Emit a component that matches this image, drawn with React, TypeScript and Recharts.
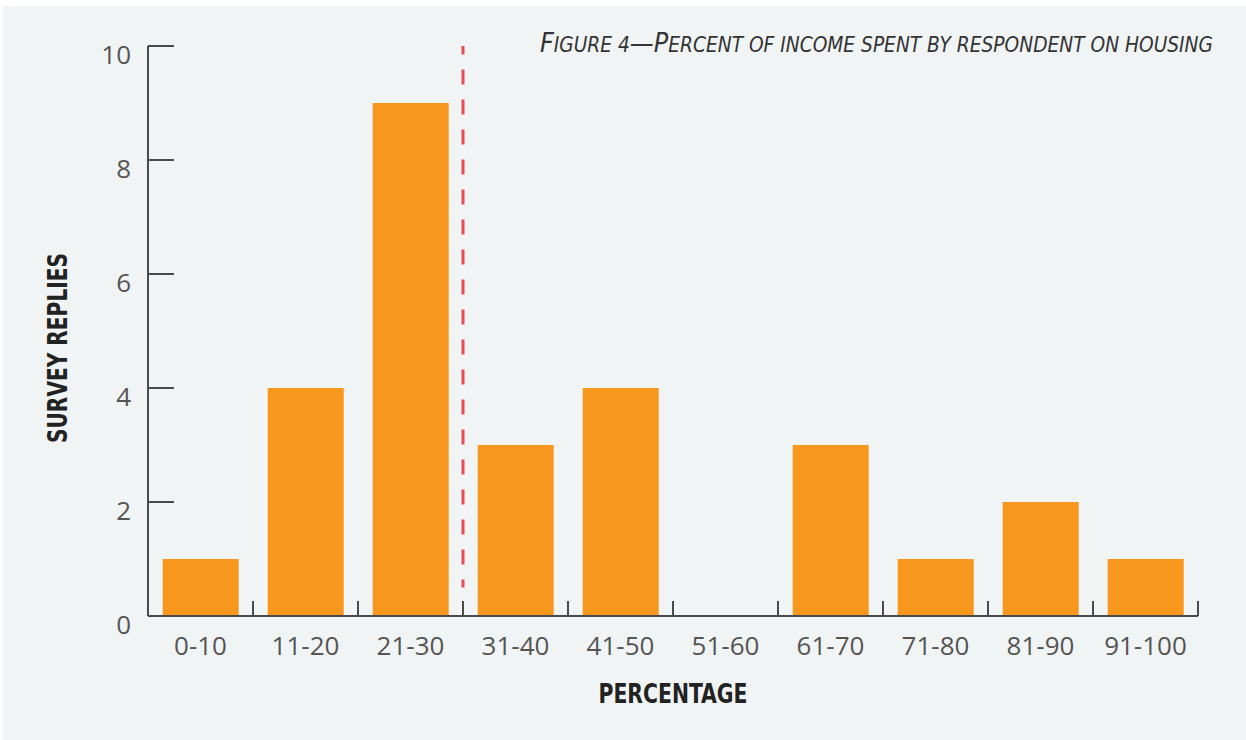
import { BarChart, Bar, XAxis, YAxis, ReferenceLine } from 'recharts';

const categories = ['0-10', '11-20', '21-30', '31-40', '41-50', '51-60', '61-70', '71-80', '81-90', '91-100'];
const replies = [1, 4, 9, 3, 4, 0, 3, 1, 2, 1];
const yTicks = [0, 2, 4, 6, 8, 10];
const thresholdCategory = '21-30';

// title pieces: [text, isCapital]
const titleParts: [string, boolean][] = [
  ['F', true],
  ['IGURE 4', false],
  ['—P', true],
  ['ERCENT OF INCOME SPENT BY RESPONDENT ON HOUSING', false],
];

const data = categories.map((name, i) => ({ name, value: replies[i] }));

const AXIS = '#4a4a4a';
const TICK_TEXT = '#555555';
const CONDENSED = "'Liberation Sans Narrow', 'DejaVu Sans Condensed', 'Roboto', sans-serif";

function XTick(props: any) {
  const { x, y, payload } = props;
  const half = payload?.offset ?? 52.5;
  return (
    <g>
      <line x1={x + half} x2={x + half} y1={y} y2={y - 15} stroke={AXIS} strokeWidth={2} />
      <text x={x} y={y + 39} textAnchor="middle" fill={TICK_TEXT} fontSize={26} fontFamily="'Open Sans', sans-serif">
        {payload.value}
      </text>
    </g>
  );
}

function YTick(props: any) {
  const { x, y, payload } = props;
  return (
    <g>
      <line x1={x} x2={x + 26} y1={y} y2={y} stroke={AXIS} strokeWidth={2} />
      <text x={x - 17} y={y + 18} textAnchor="end" fill={TICK_TEXT} fontSize={26} fontFamily="'Open Sans', sans-serif">
        {payload.value}
      </text>
    </g>
  );
}

export default function App() {
  return (
    <div style={{ position: 'absolute', left: 0, top: 0, width: 1246, height: 740, background: '#ffffff' }}>
      <div style={{ position: 'absolute', left: 3, top: 6, right: 0, bottom: 0, background: '#f1f4f5' }} />
      <div style={{ position: 'absolute', left: 0, top: 0 }}>
        <BarChart
          width={1246}
          height={740}
          data={data}
          margin={{ top: 46, right: 48, left: 88, bottom: 64 }}
          barCategoryGap="14%"
        >
          <XAxis
            dataKey="name"
            height={60}
            tickLine={false}
            tickSize={0}
            tickMargin={0}
            axisLine={{ stroke: AXIS, strokeWidth: 2 }}
            tick={<XTick />}
            interval={0}
          />
          <YAxis
            width={60}
            domain={[0, 10]}
            ticks={yTicks}
            tickLine={false}
            tickSize={0}
            tickMargin={0}
            axisLine={{ stroke: AXIS, strokeWidth: 2 }}
            tick={<YTick />}
            interval={0}
          />
          <Bar dataKey="value" fill="#f7971e" isAnimationActive={false} />
          <ReferenceLine
            segment={[
              { x: thresholdCategory, y: 0.5 },
              { x: thresholdCategory, y: 10 },
            ]}
            position="end"
            stroke="#ec4a55"
            strokeWidth={3}
            strokeDasharray="15 15"
            strokeDashoffset={7}
          />
        </BarChart>
      </div>
      <svg width={1246} height={740} style={{ position: 'absolute', left: 0, top: 0, pointerEvents: 'none' }}>
        <text
          x={1213}
          y={52}
          textAnchor="end"
          fill="#333333"
          fontStyle="italic"
          fontFamily={CONDENSED}
          textLength={673}
          lengthAdjust="spacingAndGlyphs"
        >
          {titleParts.map(([t, cap], i) => (
            <tspan key={i} fontSize={cap ? 27 : 21}>
              {t}
            </tspan>
          ))}
        </text>
        <text
          x={673}
          y={703}
          textAnchor="middle"
          fill="#222222"
          fontSize={27}
          fontWeight="bold"
          fontFamily={CONDENSED}
          textLength={149}
          lengthAdjust="spacingAndGlyphs"
        >
          PERCENTAGE
        </text>
        <text
          x={0}
          y={0}
          transform="translate(67, 348) rotate(-90)"
          textAnchor="middle"
          fill="#222222"
          fontSize={27}
          fontWeight="bold"
          fontFamily={CONDENSED}
          textLength={190}
          lengthAdjust="spacingAndGlyphs"
        >
          SURVEY REPLIES
        </text>
      </svg>
    </div>
  );
}
